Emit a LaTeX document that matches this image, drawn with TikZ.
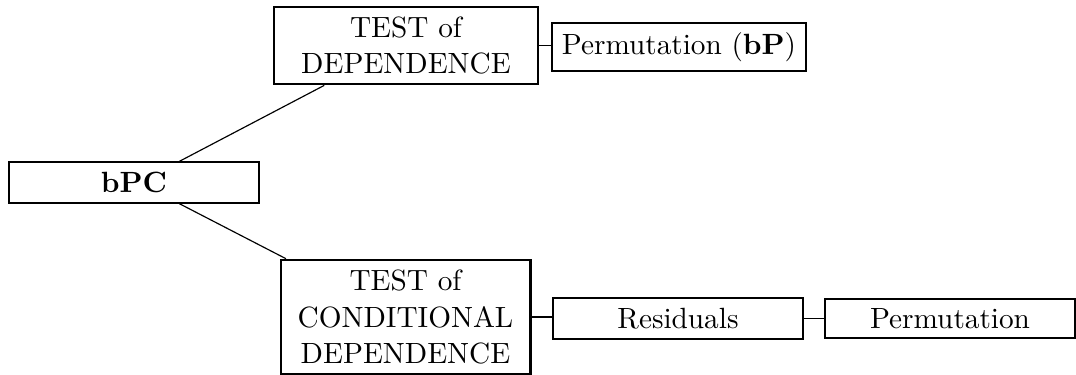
\documentclass[tikz,border=0pt]{standalone}
\usetikzlibrary{positioning}
\begin{document}
\begin{tikzpicture}[
    x=0.3415pt, y=-0.3415pt,
    box/.style={draw, line width=0.7pt, minimum width=3cm, align=center,
      font=\fontsize{10}{12.6}\selectfont},
    link/.style={line width=0.4pt},
  ]
  \useasboundingbox (0,0) rectangle (1076,374);

  % Root
  \node[box] (bpc) at (134,182.5) {\textbf{bPC}};

  % Test of dependence
  \node[box, minimum width=90.2pt, minimum height=25.6pt] (dep) at (406,45.5) {TEST of\\DEPENDENCE};
  \node[box, minimum width=0pt] (permbp) at (679,47) {Permutation (\textbf{bP})};

  % Test of conditional dependence
  \node[box, minimum height=37.6pt] (ctest) at (405.5,317) {TEST of\\CONDITIONAL\\DEPENDENCE};
  \node[box] (resid) at (678,318.5) {Residuals};
  \node[box] (perm) at (950,318.5) {Permutation};

  % Links
  \draw[link] (bpc.25) -- (dep.206);
  \draw[link] (bpc.-25) -- (ctest.154);
  \draw[link] (dep.east) -- (dep.east -| permbp.west);
  \draw[link] (ctest.east) -- (ctest.east -| resid.west);
  \draw[link] (resid) -- (perm);
\end{tikzpicture}
\end{document}
